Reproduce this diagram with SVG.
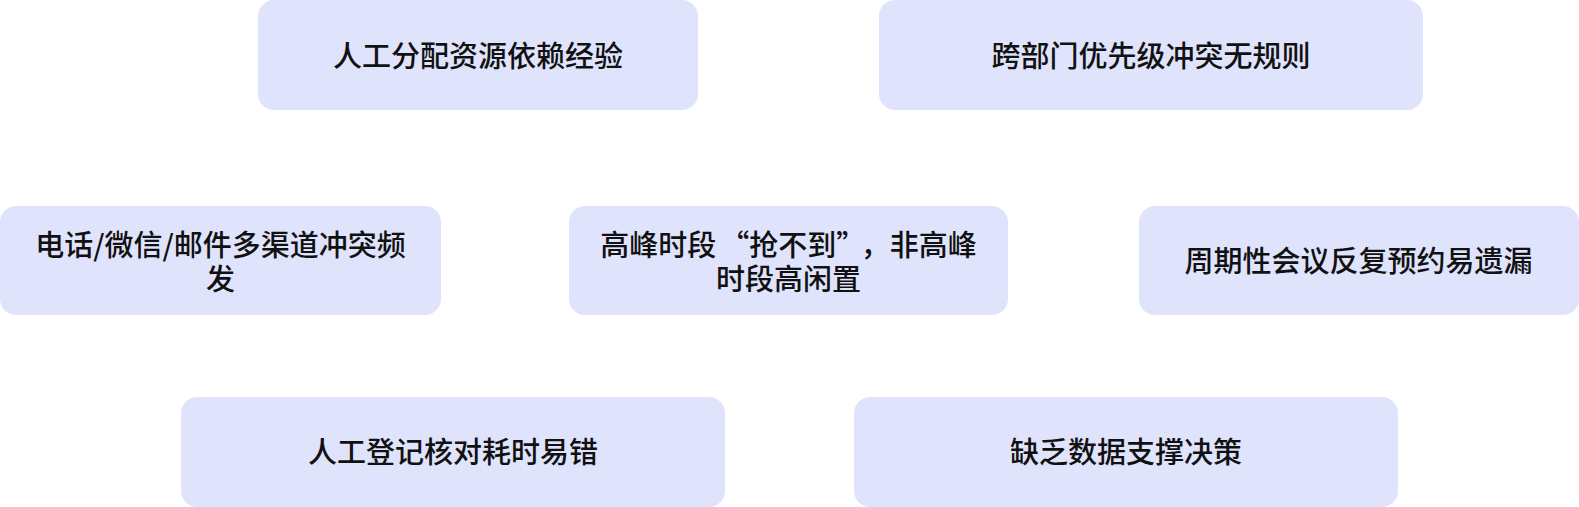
<svg xmlns="http://www.w3.org/2000/svg" width="1579" height="507" viewBox="0 0 1579 507">
  <style>
    .box { fill: #E0E3FC; stroke: none; }
    .label { font-family: "Noto Sans CJK SC", "Noto Sans", "Liberation Sans", sans-serif; font-size: 29px; font-weight: 500; fill: #111111; text-anchor: middle; }
  </style>
  <rect width="1579" height="507" fill="#FFFFFF"/>
  <g id="connectors"></g>
  <g id="node-1">
    <rect class="box" x="258" y="0" width="440" height="110" rx="16" ry="16"/>
    <text class="label" x="478" y="67">人工分配资源依赖经验</text>
  </g>
  <g id="node-2">
    <rect class="box" x="879" y="0" width="544" height="110" rx="16" ry="16"/>
    <text class="label" x="1151" y="67">跨部门优先级冲突无规则</text>
  </g>
  <g id="node-3">
    <rect class="box" x="0" y="206" width="441" height="109" rx="16" ry="16"/>
    <text class="label" x="220.5" y="256">电话/微信/邮件多渠道冲突频</text>
    <text class="label" x="220.5" y="290">发</text>
  </g>
  <g id="node-4">
    <rect class="box" x="569" y="206" width="439" height="109" rx="16" ry="16"/>
    <text class="label" x="788.5" y="256">高峰时段<tspan dx="4">“抢不到”</tspan><tspan dx="10">，非高峰</tspan></text>
    <text class="label" x="788.5" y="290">时段高闲置</text>
  </g>
  <g id="node-5">
    <rect class="box" x="1139" y="206" width="440" height="109" rx="16" ry="16"/>
    <text class="label" x="1358.5" y="272">周期性会议反复预约易遗漏</text>
  </g>
  <g id="node-6">
    <rect class="box" x="181" y="397" width="544" height="110" rx="16" ry="16"/>
    <text class="label" x="453" y="463">人工登记核对耗时易错</text>
  </g>
  <g id="node-7">
    <rect class="box" x="854" y="397" width="544" height="110" rx="16" ry="16"/>
    <text class="label" x="1126" y="463">缺乏数据支撑决策</text>
  </g>
</svg>
